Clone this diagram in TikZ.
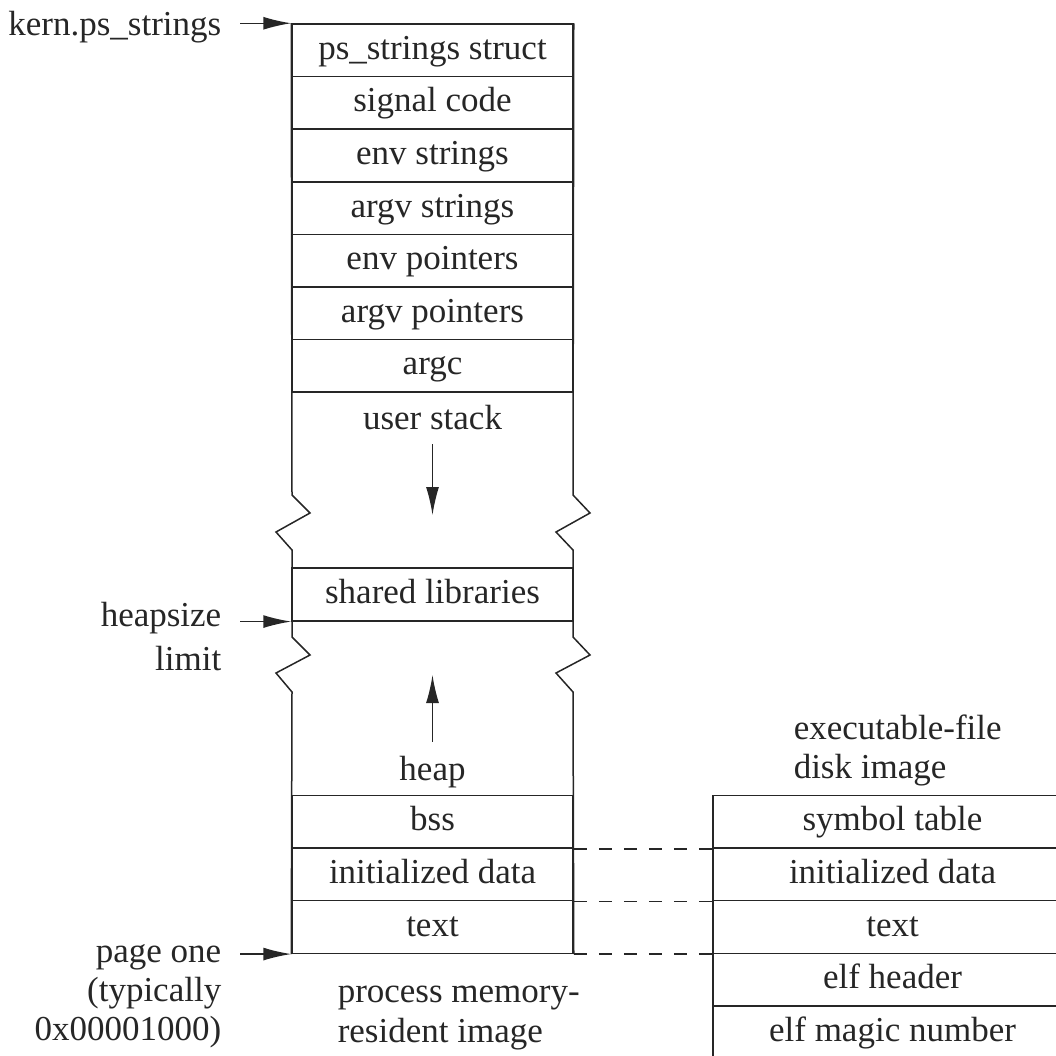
\documentclass[tikz,border=0pt]{standalone}
\usepackage{fontspec}
\setmainfont{Liberation Serif}
\usetikzlibrary{arrows.meta}

\tikzset{
  cell/.style={draw, minimum width=281pt, minimum height=52.6pt, inner sep=0pt, text height=24pt, text depth=6pt},
  dcell/.style={cell, minimum width=359pt},
  lbl/.style={align=right, anchor=base east, inner xsep=18pt, inner ysep=0pt},
  imgtitle/.style={align=left, anchor=base west, inner sep=0pt},
  tag/.style={anchor=base, inner sep=6pt},
  link/.style={dash pattern=on 13pt off 12pt}
}

\begin{document}
\begin{tikzpicture}[x=1pt, y=-1pt, >={Latex[length=28pt,width=13pt]}, line width=1.5pt, color=black!85, font=\fontsize{35}{39}\selectfont]
		\useasboundingbox (0,0) rectangle (1056,1055);
		%Process image
		\foreach \nm/\txt [count=\i from 0] in {ps/ps\_strings struct, sig/signal code, envs/env strings, argvs/argv strings, envp/env pointers, argvp/argv pointers, argc/argc}
			\node[cell] (\nm) at (432.5,50.3+52.6*\i) {\txt};
		\node[cell] (shlib) at (432.5,594.5) {shared libraries};
		\node[cell] (bss) at (432.5,821.8) {bss};
		\node[cell] (init) at (432.5,874.4) {initialized data};
		\node[cell] (txt) at (432.5,927.0) {text};
		%Walls with breaks
		\draw (ps.north west) -- (292,495) -- (310,513) -- (276,532) -- (292,550) -- (292,637) -- (310,655) -- (276,673) -- (292,692) -- (txt.south west);
		\draw (ps.north east) -- (573,495) -- (590,513) -- (556,532) -- (573,550) -- (573,637) -- (590,655) -- (556,673) -- (573,692) -- (txt.south east);
		%Stack and heap
		\node[tag] (stack) at (432.5,429) {user stack};
		\coordinate (stackEnd) at (432.5,515);
		\draw [->, shorten <=8pt] (stack) -- (stackEnd);
		\node[tag] (heap) at (432.5,780) {heap};
		\coordinate (heapEnd) at (432.5,675);
		\draw [->, shorten <=7pt] (heap) -- (heapEnd);
		%Disk image
		\node[dcell] (sym) at (892.5,821.8) {symbol table};
		\node[dcell] (dinit) at (892.5,874.4) {initialized data};
		\node[dcell] (dtxt) at (892.5,927.0) {text};
		\node[dcell] (elfh) at (892.5,979.6) {elf header};
		\node[dcell] (magic) at (892.5,1032.2) {elf magic number};
		\draw [link] (bss.south east) -- (sym.south west);
		\draw [link] (init.south east) -- (dinit.south west);
		\draw [link] (txt.south east) -- (dtxt.south west);
		%Labels
		\node[lbl] (kern) at (240,35) {kern.ps\_strings};
		\node[lbl] (heaplim) at (240,670) {heapsize\\[5pt]limit};
		\node[lbl] (pgone) at (240,1040) {page one\\(typically\\0x00001000)};
		\draw [->] (kern.east |- ps.north west) -- (ps.north west);
		\draw [->] (heaplim.east |- shlib.south west) -- (shlib.south west);
		\draw [->] (pgone.east |- txt.south west) -- (txt.south west);
		\node[imgtitle] (procimg) at (337,1042) {process memory-\\[1pt]resident image};
		\node[imgtitle] (diskimg) at (793,778) {executable-file\\disk image};
	\end{tikzpicture}
\end{document}
